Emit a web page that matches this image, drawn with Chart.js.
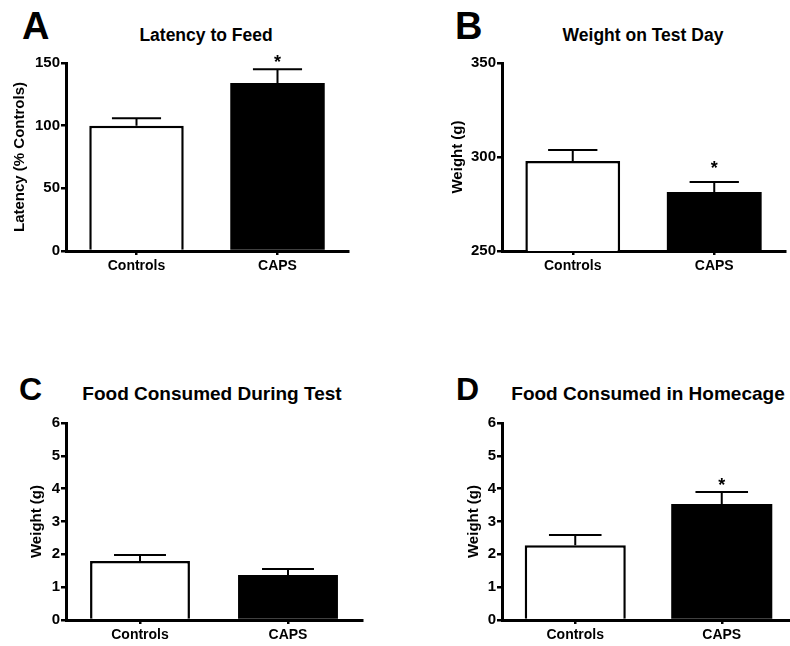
<!DOCTYPE html>
<html><head><meta charset="utf-8">
<script src="https://cdn.jsdelivr.net/npm/chart.js@4"></script>
<style>
html,body{margin:0;padding:0;background:#fff;width:790px;height:646px;overflow:hidden;position:relative;font-family:"Liberation Sans",Arial,sans-serif;}
canvas{position:absolute;}
.letter{position:absolute;font-weight:bold;color:#000;line-height:1;white-space:nowrap;}
.title{position:absolute;font-weight:bold;color:#000;white-space:nowrap;transform:translateX(-50%);}
</style></head><body>

<div class="letter" style="left:22px;top:7px;font-size:38px;">A</div>
<div class="letter" style="left:455px;top:7px;font-size:38px;">B</div>
<div class="letter" style="left:19px;top:373px;font-size:32px;">C</div>
<div class="letter" style="left:456px;top:373px;font-size:32px;">D</div>

<div class="title" style="left:206px;top:26px;font-size:17.5px;line-height:18px;">Latency to Feed</div>
<div class="title" style="left:643px;top:26px;font-size:17.5px;line-height:18px;">Weight on Test Day</div>
<div class="title" style="left:212px;top:385px;font-size:19px;line-height:18px;">Food Consumed During Test</div>
<div class="title" style="left:648px;top:385px;font-size:19px;line-height:18px;">Food Consumed in Homecage</div>

<canvas id="cA" width="350" height="230" style="left:0px;top:50px;"></canvas>
<canvas id="cB" width="390" height="230" style="left:400px;top:50px;"></canvas>
<canvas id="cC" width="370" height="236" style="left:0px;top:410px;"></canvas>
<canvas id="cD" width="395" height="236" style="left:400px;top:410px;"></canvas>

<script>
// ---- data ----
const categories = ["Controls", "CAPS"];

const latencyMeans = [100, 134];
const latencySEM   = [6, 11];
const latencyStars = [false, true];
const latencyTicks = [0, 50, 100, 150];

const weightMeans = [297.9, 281.4];
const weightSEM   = [5.8, 5.3];
const weightStars = [false, true];
const weightTicks = [250, 300, 350];

const testFoodMeans = [1.80, 1.37];
const testFoodSEM   = [0.18, 0.18];
const testFoodStars = [false, false];
const foodTicks = [0, 1, 2, 3, 4, 5, 6];

const homeFoodMeans = [2.28, 3.53];
const homeFoodSEM   = [0.31, 0.37];
const homeFoodStars = [false, true];

// ---- plugin: error bars + significance stars ----
const errorBars = {
  id: 'errorBars',
  afterDatasetsDraw(chart, args, opts) {
    const ctx = chart.ctx;
    const meta = chart.getDatasetMeta(0);
    const ds = chart.data.datasets[0];
    const ys = chart.scales.y;
    ctx.save();
    meta.data.forEach((bar, i) => {
      const v = ds.data[i];
      const top = ys.getPixelForValue(v + opts.sem[i]);
      const x = bar.x;
      const half = bar.width * 0.26;
      ctx.strokeStyle = '#000';
      ctx.lineWidth = 2;
      ctx.beginPath();
      ctx.moveTo(x, bar.y);
      ctx.lineTo(x, top);
      ctx.moveTo(x - half, top);
      ctx.lineTo(x + half, top);
      ctx.stroke();
      if (opts.stars[i]) {
        const fs = 18;
        ctx.fillStyle = '#000';
        ctx.font = 'bold ' + fs + 'px "Liberation Sans", Arial, sans-serif';
        ctx.textAlign = 'center';
        ctx.textBaseline = 'alphabetic';
        ctx.fillText('*', x, top - opts.starOffset + 0.57 * fs);
      }
    });
    ctx.restore();
  }
};

const FONT = '"Liberation Sans", Arial, sans-serif';

function makeChart(id, p) {
  new Chart(document.getElementById(id), {
    type: 'bar',
    data: {
      labels: categories,
      datasets: [{
        data: p.means,
        backgroundColor: ['#ffffff', '#000000'],
        borderColor: '#000000',
        borderWidth: [2.5, 0],
        barPercentage: p.barPct,
        categoryPercentage: 1
      }]
    },
    options: {
      responsive: false,
      animation: false,
      devicePixelRatio: 1,
      layout: { padding: { top: p.padTop, right: p.padRight, left: 0, bottom: 0 } },
      plugins: {
        legend: { display: false },
        tooltip: { enabled: false },
        title: { display: false },
        errorBars: { sem: p.sem, stars: p.stars, starOffset: p.starOffset }
      },
      scales: {
        x: {
          grid: { display: true, drawOnChartArea: false, drawTicks: true, tickLength: 4, offset: false, color: '#000', lineWidth: 2.5 },
          border: { display: true, color: '#000', width: 3 },
          ticks: { color: '#000', font: { family: FONT, size: 14, weight: 'bold' }, padding: 3 },
          afterFit(s) { s.height = p.xH; }
        },
        y: {
          min: p.ticks[0],
          max: p.ticks[p.ticks.length - 1],
          afterBuildTicks(s) { s.ticks = p.ticks.map(v => ({ value: v })); },
          ticks: { color: '#000', font: { family: FONT, size: 15, weight: 'bold' }, padding: 1 },
          grid: { drawOnChartArea: false, drawTicks: true, tickLength: 5, color: '#000', lineWidth: 2.5 },
          border: { display: true, color: '#000', width: 3 },
          title: {
            display: true, text: p.yTitle, color: '#000',
            font: { family: FONT, size: 15, weight: 'bold' },
            padding: { top: p.titlePad, bottom: 0 }
          },
          afterFit(s) { s.width = p.yW; }
        }
      }
    },
    plugins: [errorBars]
  });
}

makeChart('cA', { means: latencyMeans, sem: latencySEM, stars: latencyStars, ticks: latencyTicks,
  yTitle: 'Latency (% Controls)', barPct: 0.67, padTop: 13, padRight: 2, xH: 29, yW: 66, titlePad: 11, starOffset: 12 });
makeChart('cB', { means: weightMeans, sem: weightSEM, stars: weightStars, ticks: weightTicks,
  yTitle: 'Weight (g)', barPct: 0.67, padTop: 13, padRight: 5, xH: 29, yW: 102, titlePad: 49, starOffset: 18 });
makeChart('cC', { means: testFoodMeans, sem: testFoodSEM, stars: testFoodStars, ticks: foodTicks,
  yTitle: 'Weight (g)', barPct: 0.675, padTop: 13, padRight: 8, xH: 26, yW: 66, titlePad: 28, starOffset: 12 });
makeChart('cD', { means: homeFoodMeans, sem: homeFoodSEM, stars: homeFoodStars, ticks: foodTicks,
  yTitle: 'Weight (g)', barPct: 0.69, padTop: 13, padRight: 0, xH: 26, yW: 102, titlePad: 65, starOffset: 11 });
</script>
</body></html>
